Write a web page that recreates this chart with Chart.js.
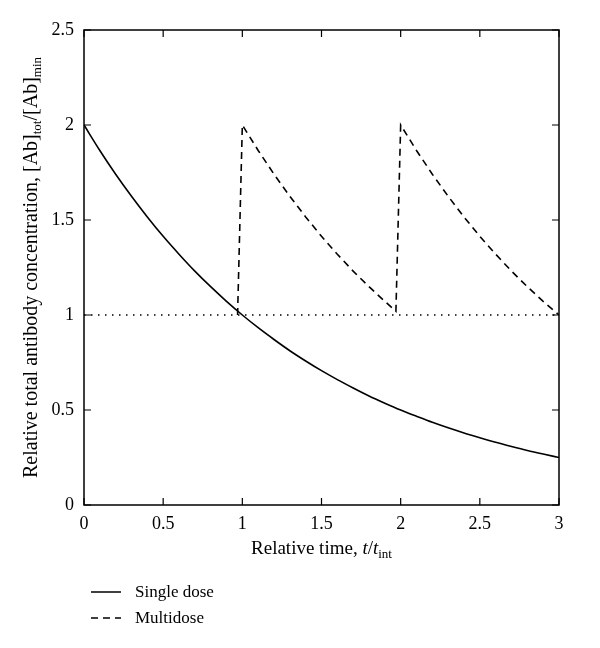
<!DOCTYPE html>
<html>
<head>
<meta charset="utf-8">
<script src="https://cdn.jsdelivr.net/npm/chart.js@4/dist/chart.umd.min.js"></script>
<style>
  html, body { margin: 0; padding: 0; background: #fff; }
  #wrap { width: 600px; height: 648px; }
</style>
</head>
<body>
<div id="wrap"><canvas id="myChart" width="600" height="648"></canvas></div>
<script>
'use strict';
// values
let singleTimes = [0, 0.1, 0.2, 0.3, 0.4, 0.5, 0.6, 0.7, 0.8, 0.9, 1.0,
  1.1, 1.2, 1.3, 1.4, 1.5, 1.6, 1.7, 1.8, 1.9, 2.0,
  2.1, 2.2, 2.3, 2.4, 2.5, 2.6, 2.7, 2.8, 2.9, 3.0];
let singleValues = [2.0, 1.866, 1.741, 1.625, 1.516, 1.414, 1.320, 1.231, 1.149, 1.072, 1.0,
  0.933, 0.871, 0.812, 0.758, 0.707, 0.660, 0.616, 0.574, 0.536, 0.5,
  0.467, 0.435, 0.406, 0.379, 0.354, 0.330, 0.308, 0.287, 0.268, 0.25];
let multiTimes = [0.97, 1.0, 1.1, 1.2, 1.3, 1.4, 1.5, 1.6, 1.7, 1.8, 1.9, 1.97,
  2.0, 2.1, 2.2, 2.3, 2.4, 2.5, 2.6, 2.7, 2.8, 2.9, 3.0];
let multiValues = [1.0, 2.0, 1.866, 1.741, 1.625, 1.516, 1.414, 1.320, 1.231, 1.149, 1.072, 1.02,
  2.0, 1.866, 1.741, 1.625, 1.516, 1.414, 1.320, 1.231, 1.149, 1.072, 1.0];
let refTimes = [0, 3];
let refValues = [1, 1];
let xTicks = [0, 0.5, 1, 1.5, 2, 2.5, 3];
let yTicks = [0, 0.5, 1, 1.5, 2, 2.5];
let seriesNames = ['Single dose', 'Multidose'];

let fontName = '"Liberation Serif", "DejaVu Serif", serif';

function toPoints(xs, ys) {
  let pts = [];
  for (let i = 0; i < xs.length; i++) {
    pts.push({ x: xs[i], y: ys[i] });
  }
  return pts;
}

// frame, inward ticks, axis titles and legend
let extras = {
  id: 'extras',
  afterDraw(chart) {
    let ctx = chart.ctx;
    let a = chart.chartArea;
    let xs = chart.scales.x;
    let ys = chart.scales.y;
    ctx.save();
    ctx.strokeStyle = '#000';
    ctx.lineWidth = 1.5;
    ctx.setLineDash([]);
    ctx.strokeRect(a.left, a.top, a.right - a.left, a.bottom - a.top);
    let tl = 7;
    ctx.lineWidth = 1.2;
    ctx.beginPath();
    for (let v of xTicks) {
      let px = xs.getPixelForValue(v);
      ctx.moveTo(px, a.bottom); ctx.lineTo(px, a.bottom - tl);
      ctx.moveTo(px, a.top); ctx.lineTo(px, a.top + tl);
    }
    for (let v of yTicks) {
      let py = ys.getPixelForValue(v);
      ctx.moveTo(a.left, py); ctx.lineTo(a.left + tl, py);
      ctx.moveTo(a.right, py); ctx.lineTo(a.right - tl, py);
    }
    ctx.stroke();

    ctx.fillStyle = '#000';
    ctx.textBaseline = 'alphabetic';

    // x title: Relative time, t/t_int
    let parts = [
      { t: 'Relative time, ', f: '19px ' + fontName, dy: 0 },
      { t: 't', f: 'italic 19px ' + fontName, dy: 0 },
      { t: '/', f: '19px ' + fontName, dy: 0 },
      { t: 't', f: 'italic 19px ' + fontName, dy: 0 },
      { t: 'int', f: '13px ' + fontName, dy: 4 }
    ];
    drawParts(ctx, parts, (a.left + a.right) / 2, 554);

    // y title, rotated
    ctx.save();
    ctx.translate(37, (a.top + a.bottom) / 2);
    ctx.rotate(-Math.PI / 2);
    let yparts = [
      { t: 'Relative total antibody concentration, [Ab]', f: '20px ' + fontName, dy: 0 },
      { t: 'tot', f: '13px ' + fontName, dy: 4 },
      { t: '/[Ab]', f: '20px ' + fontName, dy: 0 },
      { t: 'min', f: '13px ' + fontName, dy: 4 }
    ];
    drawParts(ctx, yparts, 0, 0);
    ctx.restore();

    // legend
    let legY = [592, 618];
    for (let i = 0; i < seriesNames.length; i++) {
      let ds = chart.data.datasets[i];
      ctx.strokeStyle = '#000';
      ctx.lineWidth = 1.5;
      ctx.setLineDash(ds.borderDash || []);
      ctx.beginPath();
      ctx.moveTo(91, legY[i]);
      ctx.lineTo(121, legY[i]);
      ctx.stroke();
      ctx.setLineDash([]);
      ctx.font = '17px ' + fontName;
      ctx.textAlign = 'left';
      ctx.fillText(seriesNames[i], 135, legY[i] + 5);
    }
    ctx.restore();
  }
};

function drawParts(ctx, parts, cx, baseY) {
  let total = 0;
  for (let p of parts) { ctx.font = p.f; total += ctx.measureText(p.t).width; }
  let x = cx - total / 2;
  ctx.textAlign = 'left';
  for (let p of parts) {
    ctx.font = p.f;
    ctx.fillText(p.t, x, baseY + p.dy);
    x += ctx.measureText(p.t).width;
  }
}

let ctx = document.getElementById('myChart').getContext('2d');
let myChart = new Chart(ctx, {
  type: 'line',
  data: {
    datasets: [{
      label: seriesNames[0],
      data: toPoints(singleTimes, singleValues),
      borderColor: '#000',
      borderWidth: 1.6,
      pointRadius: 0,
      cubicInterpolationMode: 'monotone',
      fill: false
    }, {
      label: seriesNames[1],
      data: toPoints(multiTimes, multiValues),
      borderColor: '#000',
      borderWidth: 1.6,
      borderDash: [7, 5],
      pointRadius: 0,
      tension: 0,
      fill: false
    }, {
      label: 'ref',
      data: toPoints(refTimes, refValues),
      borderColor: '#000',
      borderWidth: 1.5,
      borderDash: [1.5, 5.5],
      pointRadius: 0,
      fill: false
    }]
  },
  plugins: [extras],
  options: {
    responsive: false,
    animation: false,
    layout: { padding: { left: 0, top: 30, right: 41, bottom: 0 } },
    plugins: {
      legend: { display: false },
      tooltip: { enabled: false }
    },
    scales: {
      x: {
        type: 'linear',
        min: 0,
        max: 3,
        afterFit: function (s) { s.height = 143; },
        afterBuildTicks: function (s) { s.ticks = xTicks.map(v => ({ value: v })); },
        grid: { display: false },
        border: { display: false },
        ticks: {
          color: '#000',
          padding: 0,
          font: { family: fontName, size: 18 },
          callback: function (v) { return String(v); }
        }
      },
      y: {
        type: 'linear',
        min: 0,
        max: 2.5,
        afterFit: function (s) { s.width = 84; },
        afterBuildTicks: function (s) { s.ticks = yTicks.map(v => ({ value: v })); },
        grid: { display: false },
        border: { display: false },
        ticks: {
          color: '#000',
          padding: 2,
          font: { family: fontName, size: 18 },
          callback: function (v) { return String(v); }
        }
      }
    }
  }
});
</script>
</body>
</html>
